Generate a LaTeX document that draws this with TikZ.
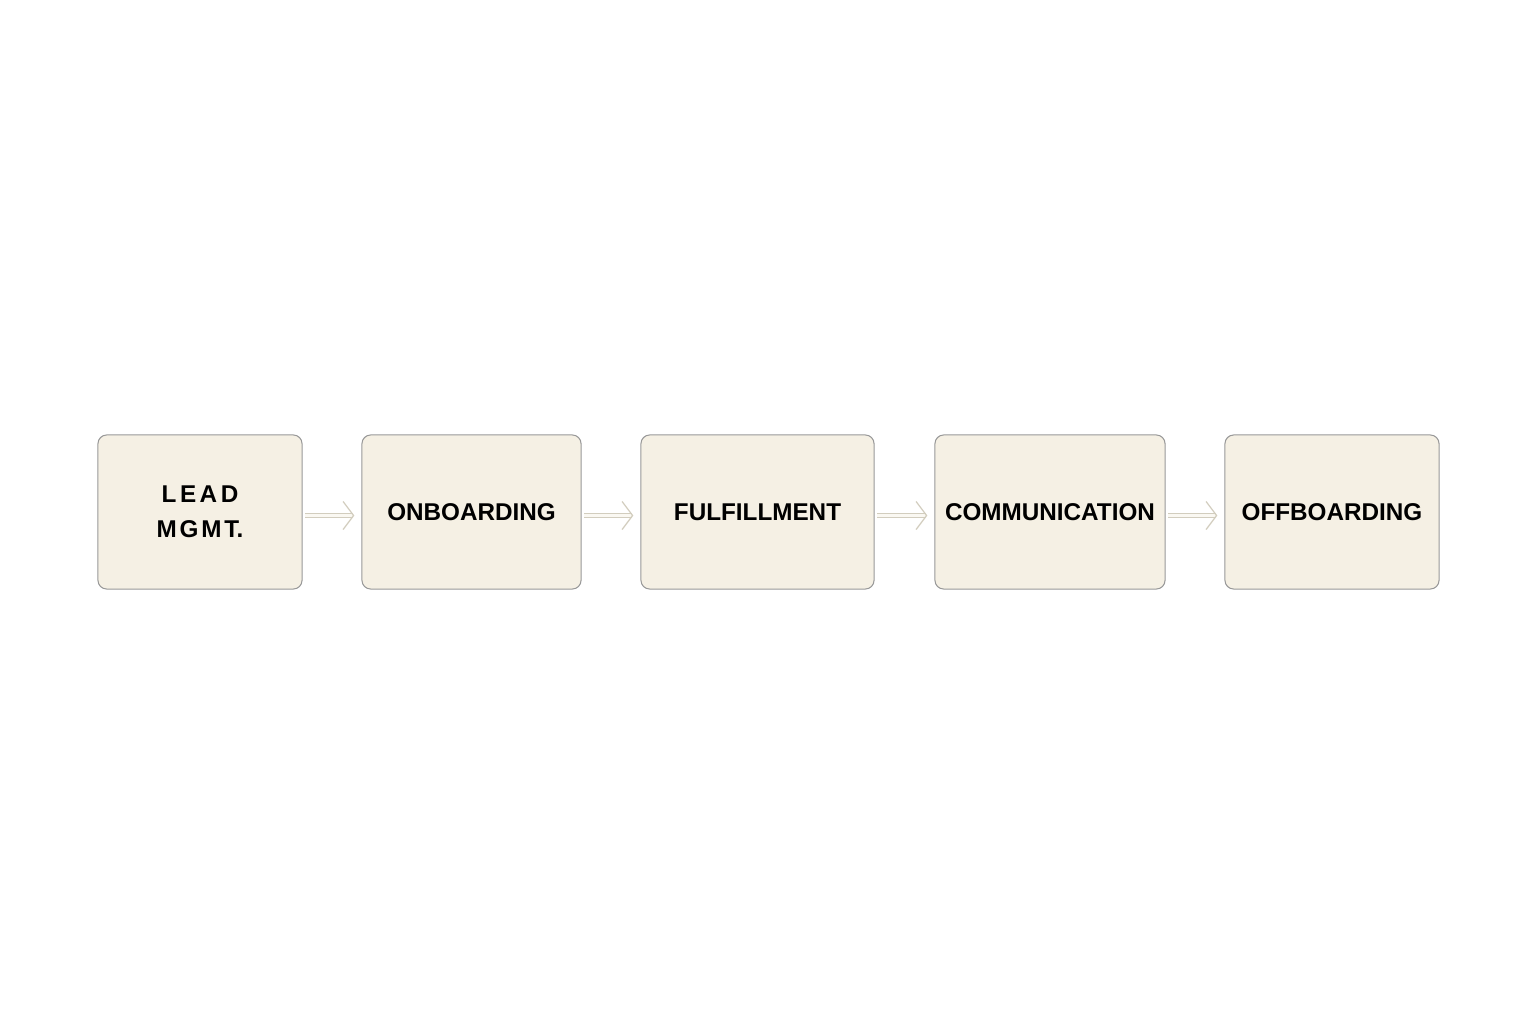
\documentclass[tikz,border=0pt]{standalone}
\usepackage{fontspec}
\setmainfont{Liberation Sans}
\usetikzlibrary{arrows.meta}
\begin{document}
\begin{tikzpicture}[x=0.01cm,y=-0.01cm,
  stage/.style={draw=black!40, line width=0.3pt, fill={rgb,255:red,245;green,240;blue,228}, rounded corners=2.5pt, inner sep=0pt, align=center, font=\fontsize{6.9pt}{9pt}\selectfont\bfseries},
  flow/.style={draw={rgb,255:red,210;green,205;blue,190}, double={rgb,255:red,250;green,248;blue,242}, double distance=0.6pt, line width=0.35pt, -{Straight Barb[length=3pt,width=8pt]}}]
\useasboundingbox (0,0) rectangle (1536,1024);
\fill[white] (0,0) rectangle (1536,1024);
\node[stage, minimum width=2.04cm, minimum height=1.54cm] (a) at (200,512) {L\kern1ptE\kern1ptA\kern1ptD\\[1pt]M\kern0.8ptG\kern0.8ptM\kern0.8ptT.};
\node[stage, minimum width=2.19cm, minimum height=1.54cm] (b) at (471.5,512) {ONBOARDING};
\node[stage, minimum width=2.33cm, minimum height=1.54cm] (c) at (757.5,512) {FULFILLMENT};
\node[stage, minimum width=2.30cm, minimum height=1.54cm] (d) at (1050,512) {COMMUNICATION};
\node[stage, minimum width=2.14cm, minimum height=1.54cm] (e) at (1332,512) {OFFBOARDING};
\draw[flow] ([xshift=0.8pt,yshift=-1pt]a.east) -- ([xshift=-2pt,yshift=-1pt]b.west);
\draw[flow] ([xshift=0.8pt,yshift=-1pt]b.east) -- ([xshift=-2pt,yshift=-1pt]c.west);
\draw[flow] ([xshift=0.8pt,yshift=-1pt]c.east) -- ([xshift=-2pt,yshift=-1pt]d.west);
\draw[flow] ([xshift=0.8pt,yshift=-1pt]d.east) -- ([xshift=-2pt,yshift=-1pt]e.west);
\end{tikzpicture}
\end{document}
